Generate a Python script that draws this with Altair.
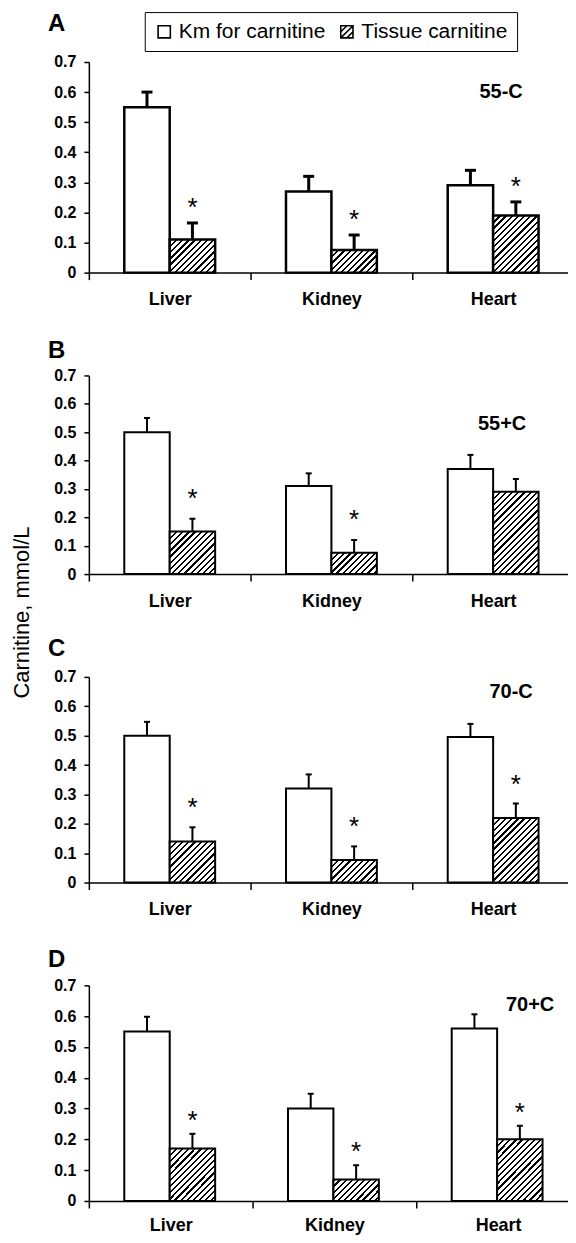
import altair as alt
import pandas as pd

FONT = "Liberation Sans, Arial, Helvetica, sans-serif"

organs = ["Liver", "Kidney", "Heart"]
series = ["Km for carnitine", "Tissue carnitine"]

# Panel A (55-C)
km_A = [0.55, 0.27, 0.29]
km_err_A = [0.05, 0.05, 0.05]
ti_A = [0.11, 0.075, 0.19]
ti_err_A = [0.055, 0.05, 0.045]
star_A = [True, True, True]

# Panel B (55+C)
km_B = [0.50, 0.31, 0.37]
km_err_B = [0.05, 0.045, 0.05]
ti_B = [0.15, 0.075, 0.29]
ti_err_B = [0.045, 0.045, 0.045]
star_B = [True, True, False]

# Panel C (70-C)
km_C = [0.50, 0.32, 0.495]
km_err_C = [0.047, 0.048, 0.045]
ti_C = [0.14, 0.077, 0.22]
ti_err_C = [0.048, 0.046, 0.049]
star_C = [True, True, True]

# Panel D (70+C)
km_D = [0.55, 0.30, 0.56]
km_err_D = [0.048, 0.048, 0.046]
ti_D = [0.17, 0.07, 0.20]
ti_err_D = [0.048, 0.046, 0.044]
star_D = [True, True, True]

letters = ["A", "B", "C", "D"]
conditions = ["55-C", "55+C", "70-C", "70+C"]
y_ticks = [0, 0.1, 0.2, 0.3, 0.4, 0.5, 0.6, 0.7]
y_title = "Carnitine, mmol/L"

PO = 0.78  # outer padding of the series offset scale


def hatch(w, h, period=6.2, frac=0.36):
    """Diagonal (///) hatch as a hard-stop linear gradient in bbox units."""
    L = w + h
    stops = []
    i = 0
    while i * period < L:
        a = round(i * period / L, 5)
        b = round(min((i * period + frac * period) / L, 1), 5)
        c = round(min((i + 1) * period / L, 1), 5)
        stops += [
            {"offset": a, "color": "black"},
            {"offset": b, "color": "black"},
            {"offset": b, "color": "white"},
            {"offset": c, "color": "white"},
        ]
        i += 1
    den = w * w + h * h
    return {
        "gradient": "linear",
        "x1": 0, "y1": 0,
        "x2": round(w * L / den, 5), "y2": round(h * L / den, 5),
        "stops": stops,
    }


def make_panel(letter, cond, km, km_err, ti, ti_err, stars, W, H, letter_y,
               label_y, label_dx, star_dy, eb_w, cap_w, cap_t, bar_sw,
               with_title=False, with_legend=False, x_pad=11):
    rows = []
    for i, o in enumerate(organs):
        rows.append(dict(organ=o, series=series[0], value=km[i], err=km_err[i], star=False))
        rows.append(dict(organ=o, series=series[1], value=ti[i], err=ti_err[i], star=stars[i]))
    df = pd.DataFrame(rows)
    df["upper"] = df["value"] + df["err"]
    bw = W / 3 / (2 + 2 * PO)  # bar width in px (for hatch geometry)

    x = alt.X("organ:N", sort=organs,
              scale=alt.Scale(paddingInner=0, paddingOuter=0),
              axis=alt.Axis(title=None, labelAngle=0, tickBand="extent", tickSize=7,
                            tickWidth=1.5, domainWidth=1.5, labelFontSize=18,
                            labelFontWeight="bold", labelFont=FONT, labelPadding=x_pad))
    xo = alt.XOffset("series:N", sort=series,
                     scale=alt.Scale(paddingInner=0, paddingOuter=PO))
    axis_kw = dict(values=y_ticks, tickCount=len(y_ticks),
                   labelExpr="datum.value == 0 ? '0' : format(datum.value, '.1f')",
                   labelOverlap=False, labelFlush=False,
                   tickSize=5, tickWidth=1.5, domainWidth=1.5, labelPadding=8,
                   labelFontSize=16, labelFontWeight="bold", labelFont=FONT)
    if with_title:
        axis_kw.update(title=y_title, titleFontSize=22, titleFontWeight="normal",
                       titleFont=FONT, titleX=-60, titleY=237, titleAlign="center",
                       titleBaseline="alphabetic", titleAngle=270)
    else:
        axis_kw.update(title=None)
    yaxis = alt.Axis(**axis_kw)
    yscale = alt.Scale(domain=[0, 0.7], nice=False)

    fill_cond = [
        {"test": f"datum.series === '{series[1]}' && datum.organ === '{o}'",
         "value": hatch(bw, ti[i] / 0.7 * H)}
        for i, o in enumerate(organs)
    ]

    base = alt.Chart(df)
    bars = base.mark_bar(stroke="black", strokeWidth=bar_sw).encode(
        x=x, xOffset=xo,
        y=alt.Y("value:Q", scale=yscale, axis=yaxis),
        fill=alt.FillValue(value="white", condition=fill_cond),
    )
    rules = base.mark_rule(color="black", strokeWidth=eb_w).encode(
        x=x, xOffset=xo,
        y=alt.Y("value:Q", scale=yscale, axis=yaxis),
        y2="upper:Q",
    )
    caps = base.mark_tick(color="black", size=cap_w, thickness=cap_t, opacity=1).encode(
        x=x, xOffset=xo,
        y=alt.Y("upper:Q", scale=yscale, axis=yaxis),
    )
    star_marks = base.transform_filter("datum.star").mark_text(
        text="*", fontSize=26, font=FONT, baseline="alphabetic", dy=star_dy, color="black"
    ).encode(
        x=x, xOffset=xo,
        y=alt.Y("upper:Q", scale=yscale, axis=yaxis),
    )
    cond_text = alt.Chart(pd.DataFrame({"t": [cond]})).mark_text(
        fontSize=20, fontWeight="bold", font=FONT, baseline="middle", dx=label_dx, color="black"
    ).encode(text="t:N", x=alt.datum("Heart"), y=alt.datum(label_y))
    letter_text = alt.Chart(pd.DataFrame({"t": [letter]})).mark_text(
        fontSize=24, fontWeight="bold", font=FONT, align="left", baseline="top",
        color="black"
    ).encode(text="t:N", x=alt.value(-41), y=alt.value(letter_y))

    layers = [bars, rules, caps, star_marks, cond_text, letter_text]

    if with_legend:
        sq = "M-1,-1H1V1H-1Z"
        hp = "M-1,-1H1V1H-1Z M-1,0L0,-1 M-1,1L1,-1 M0,1L1,0"
        leg = base.mark_point(filled=False, color="black", strokeWidth=1.6,
                              size=150, opacity=1, clip=True).encode(
            x=x,
            y=alt.Y("upper:Q", scale=yscale, axis=yaxis),
            shape=alt.Shape("series:N", sort=series,
                            scale=alt.Scale(domain=series, range=[sq, hp]),
                            legend=alt.Legend(title=None, orient="none", legendX=56,
                                              legendY=-50, direction="horizontal",
                                              strokeColor="black", padding=9,
                                              labelFontSize=21, labelFont=FONT,
                                              labelColor="black", labelLimit=400,
                                              symbolSize=150, symbolStrokeWidth=1.6,
                                              symbolStrokeColor="black", symbolOpacity=1,
                                              columnPadding=10, labelOffset=4)),
        )
        # legend-only marks: pushed outside the fixed y domain and clipped
        leg = leg.transform_calculate(upper="-1")
        layers.append(leg)

    return alt.layer(*layers).properties(width=W, height=H)


pA = make_panel("A", conditions[0], km_A, km_err_A, ti_A, ti_err_A, star_A, 486, 211,
                -50, 0.60, 8, -7, 3, 11, 3, 2.5, with_legend=True)
pB = make_panel("B", conditions[1], km_B, km_err_B, ti_B, ti_err_B, star_B, 486, 199,
                -36, 0.53, 9, -12, 2, 6, 2, 2, with_title=True)
pC = make_panel("C", conditions[2], km_C, km_err_C, ti_C, ti_err_C, star_C, 486, 206,
                -40, 0.65, 18, -11, 2, 6, 2, 2)
pD = make_panel("D", conditions[3], km_D, km_err_D, ti_D, ti_err_D, star_D, 492, 216,
                -37, 0.635, 32, -5, 2, 6, 2, 2, x_pad=9)

# the page is 576 wide with an 8px body margin on each side: the figure's
# right edge (like the reference's x axes) is trimmed at the window edge
chart = alt.vconcat(pA, pB, pC, pD, spacing=103, bounds="flush").properties(
    padding={"left": 3, "top": 2, "right": -13, "bottom": 0},
    background="white",
).configure_view(stroke=None).configure_axis(
    grid=False, domainColor="black", tickColor="black", labelColor="black",
    titleColor="black",
)

chart.save("out.html", embed_options={"renderer": "svg", "actions": False})
